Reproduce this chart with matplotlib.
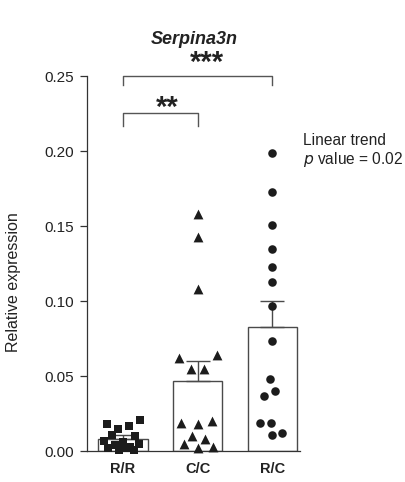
import matplotlib
matplotlib.use("Agg")
import matplotlib.pyplot as plt
import numpy as np

plt.rcParams['font.family'] = ['Liberation Sans', 'DejaVu Sans']

categories = ["R/R", "C/C", "R/C"]
bar_means = [0.008, 0.047, 0.083]
bar_sems = [0.003, 0.013, 0.017]

rr_values = [0.018, 0.015, 0.0167, 0.0207, 0.011, 0.010, 0.007, 0.006, 0.005,
             0.004, 0.003, 0.002, 0.002, 0.001, 0.001]
rr_offsets = [-0.21, -0.07, 0.08, 0.23, -0.15, 0.16, -0.25, 0.0, 0.22, -0.1,
              0.1, -0.2, 0.05, -0.05, 0.15]

cc_values = [0.158, 0.143, 0.108, 0.062, 0.055, 0.055, 0.064, 0.019, 0.018,
             0.020, 0.010, 0.008, 0.005, 0.003, 0.002]
cc_offsets = [0.0, 0.0, 0.0, -0.25, -0.09, 0.08, 0.26, -0.22, 0.0, 0.19,
              -0.08, 0.1, -0.18, 0.2, 0.0]

rc_values = [0.199, 0.173, 0.151, 0.135, 0.123, 0.113, 0.097, 0.0735, 0.048,
             0.040, 0.037, 0.019, 0.019, 0.012, 0.011]
rc_offsets = [0.0, 0.0, 0.0, 0.0, 0.0, 0.0, 0.0, 0.0, -0.03, 0.04, -0.11,
              -0.17, -0.02, 0.13, 0.0]

fig = plt.figure(figsize=(4.05, 4.82), dpi=100)
ax = fig.add_axes([0.2148, 0.0643, 0.5262, 0.778])

x = np.arange(len(categories))
ink = "#1c1c1c"
edge = "#4a4a4a"
txt = "#222222"

ax.bar(x, bar_means, width=0.66, color="white", edgecolor=edge, linewidth=1.0, zorder=1)
for xi, m, s in zip(x, bar_means, bar_sems):
    ax.errorbar(xi, m, yerr=[[0], [s]], fmt="none", ecolor=edge, elinewidth=1.0,
                capsize=8.6, capthick=1.0, zorder=1, clip_on=False)

ax.scatter(x[0] + np.array(rr_offsets), rr_values, marker="s", s=34, color=ink,
           linewidths=0, zorder=3, clip_on=False)
ax.scatter(x[1] + np.array(cc_offsets), cc_values, marker="^", s=50, color=ink,
           linewidths=0, zorder=3, clip_on=False)
ax.scatter(x[2] + np.array(rc_offsets), rc_values, marker="o", s=38, color=ink,
           linewidths=0, zorder=3, clip_on=False)

ax.set_xlim(-0.48, 2.37)
ax.set_ylim(0, 0.25)
ax.set_yticks([0.0, 0.05, 0.10, 0.15, 0.20, 0.25])
ax.set_yticklabels(["0.00", "0.05", "0.10", "0.15", "0.20", "0.25"], fontsize=11, color=txt)
ax.set_xticks(x)
ax.set_xticklabels(categories, fontsize=10.5, fontweight="bold", color=txt)
ax.tick_params(axis="x", length=0, pad=8)
ax.tick_params(axis="y", length=5, width=0.9, color="#333333", direction="out", pad=4)
for sp in ["top", "right"]:
    ax.spines[sp].set_visible(False)
for sp in ["left", "bottom"]:
    ax.spines[sp].set_linewidth(0.9)
    ax.spines[sp].set_color("#333333")

ax.set_ylabel("Relative expression", fontsize=11.5, color=txt)
ax.yaxis.set_label_coords(-0.31, 0.45)

# significance brackets
lc = "#555555"
ax.plot([0, 0, 2, 2], [0.244, 0.25, 0.25, 0.244], color=lc, lw=1.0, clip_on=False)
ax.text(1.12, 0.2532, "***", ha="center", va="baseline", fontsize=21, fontweight="bold",
        color=txt, clip_on=False)
ax.plot([0, 0, 1, 1], [0.217, 0.2255, 0.2255, 0.217], color=lc, lw=1.0, clip_on=False)
ax.text(0.59, 0.2237, "**", ha="center", va="baseline", fontsize=21, fontweight="bold",
        color=txt, clip_on=False)

ax.text(2.41, 0.207, "Linear trend", fontsize=11.2, color=txt, va="center", clip_on=False)
ax.text(2.41, 0.1945, "$\\it{p}$ value = 0.02", fontsize=11.2, color=txt, va="center", clip_on=False)

fig.text(194 / 405, 1 - 40 / 482, "Serpina3n", fontsize=13, fontweight="bold",
         style="italic", ha="center", va="center", color=txt)

fig.savefig("out.png", dpi=100)
